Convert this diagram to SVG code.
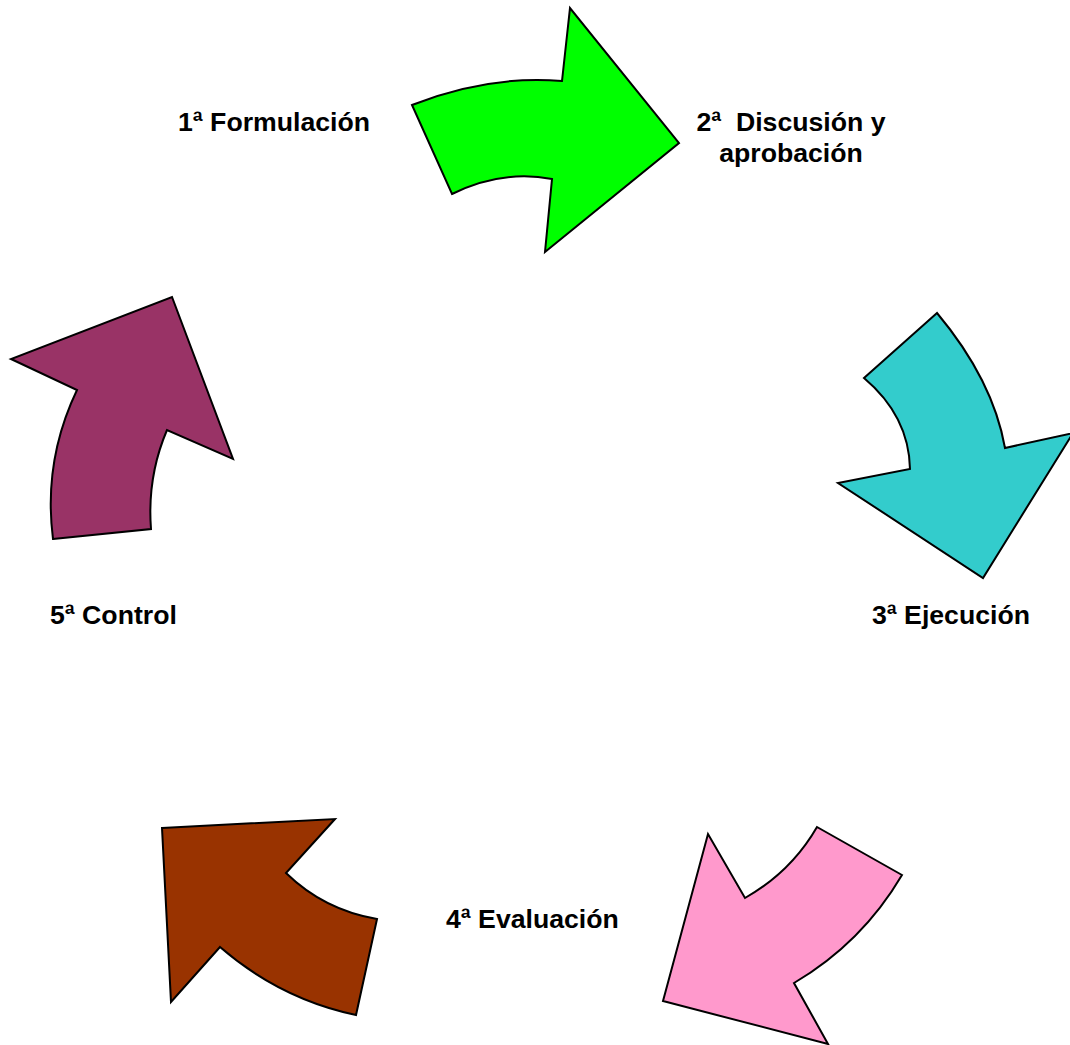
<svg xmlns="http://www.w3.org/2000/svg" width="1070" height="1045" viewBox="0 0 1070 1045">
<style>
.lbl{font-family:"Liberation Sans",Arial,sans-serif;font-weight:bold;font-size:26.67px;fill:#000}
.arr{stroke:#000;stroke-width:2;stroke-linejoin:miter}
</style>
<rect width="1070" height="1045" fill="#fff"/>
<g id="connectors">
<path id="arrow-1-2" class="arr" fill="#00FF00" d="M412,105 Q487,75 562,81 L570,8 L679,143 L545,252 L552,179 Q502,169.5 452,194 Z"/>
<path id="arrow-2-3" class="arr" fill="#33CCCC" d="M937,313 L864,378 Q909,416 910,469 L838,483 L983,578 L1073,433 L1005,448 Q993,380 937,313 Z"/>
<path id="arrow-3-4" class="arr" fill="#FF99CC" d="M817,827 L902,875 Q862,943 794,983 L828,1044 L663,1001 L708,834 L745,898 Q791,872 817,827 Z"/>
<path id="arrow-4-5" class="arr" fill="#993300" d="M162,828 L335,819 L286,873 Q324,910 377,919 L356,1015 Q280,999 220,947 L171,1002 Z"/>
<path id="arrow-5-1" class="arr" fill="#993366" d="M53,539 L151,529 Q147,477 167,430 L233,459 L172,297 L11,359 L77,390 Q43,461 53,539 Z"/>
</g>
<g id="node-1"><text class="lbl" x="178" y="131">1ª Formulación</text></g>
<g id="node-2"><text class="lbl" x="791" y="131" text-anchor="middle" xml:space="preserve">2ª  Discusión y</text><text class="lbl" x="791" y="162" text-anchor="middle">aprobación</text></g>
<g id="node-3"><text class="lbl" x="872" y="624">3ª Ejecución</text></g>
<g id="node-4"><text class="lbl" x="446" y="928">4ª Evaluación</text></g>
<g id="node-5"><text class="lbl" x="50" y="624">5ª Control</text></g>
</svg>
